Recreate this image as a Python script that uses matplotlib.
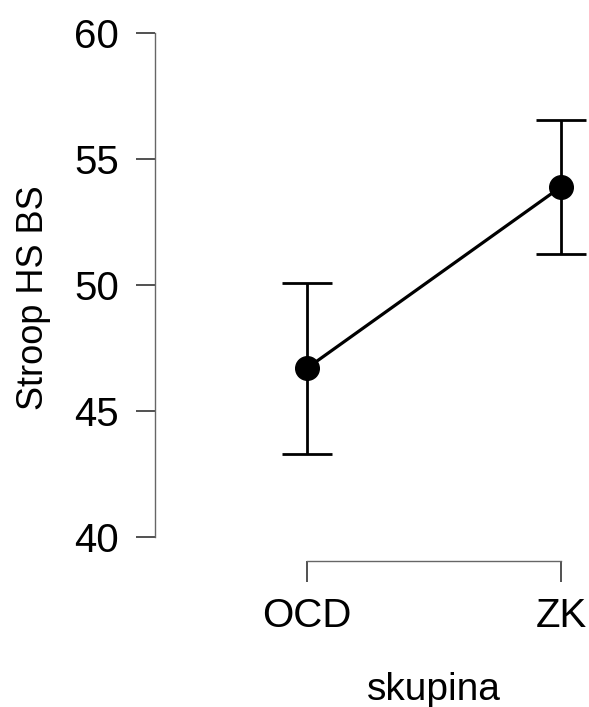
import matplotlib
matplotlib.use("Agg")
import matplotlib.pyplot as plt

categories = ["OCD", "ZK"]
means = [46.7, 53.9]
lower = [43.3, 51.25]
upper = [50.1, 56.55]
yticks = [40, 45, 50, 55, 60]

plt.rcParams['font.family'] = ['Liberation Sans', 'DejaVu Sans']

fig = plt.figure(figsize=(5.89, 7.07), dpi=100)
W, H = 589, 707
ax = fig.add_axes([155 / W, (H - 561) / H, (589 - 155) / W, (561 - 20) / H])

x = list(range(len(categories)))
yerr = [[m - l for m, l in zip(means, lower)], [u - m for m, u in zip(means, upper)]]
ax.plot(x, means, color='black', lw=2.3, zorder=2)
ax.errorbar(x, means, yerr=yerr, fmt='none', ecolor='black', elinewidth=2.0,
            capsize=18, capthick=2.0, zorder=3)
ax.plot(x, means, 'o', color='black', ms=17, zorder=4)

ax.set_xlim(-0.598, 1.110)
ax.set_ylim(39.05, 60.52)
ax.set_yticks(yticks)
ax.set_xticks(x)
ax.set_xticklabels(categories)

for s in ['top', 'right']:
    ax.spines[s].set_visible(False)
ax.spines['left'].set_bounds(40, 60)
ax.spines['bottom'].set_bounds(0, 1)
for s in ['left', 'bottom']:
    ax.spines[s].set_color('#666666')
    ax.spines[s].set_linewidth(1.0)

ax.tick_params(axis='y', length=14, width=1.2, color='#333333', labelsize=29, pad=12)
ax.tick_params(axis='x', length=15, width=1.2, color='#333333', labelsize=29, pad=11)

ax.set_ylabel("Stroop HS BS", fontsize=26)
ax.yaxis.set_label_coords(-0.24, 0.486)
ax.set_xlabel("skupina", fontsize=28)
ax.xaxis.set_label_coords(0.643, -0.205)

fig.savefig("out.png", dpi=100)
